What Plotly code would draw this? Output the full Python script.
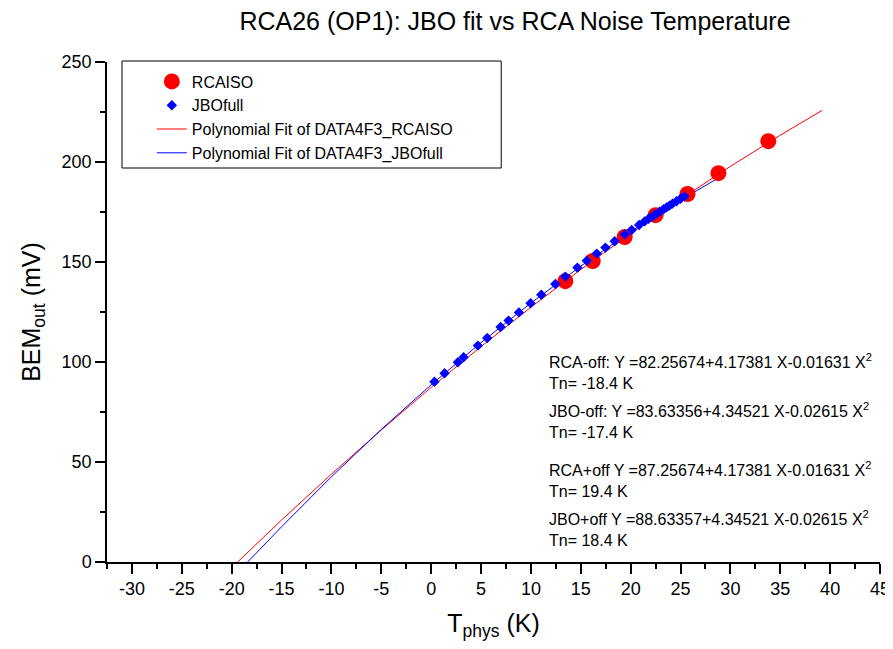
import plotly.graph_objects as go

# RCAISO measured points
rca_x = [13.45, 16.2, 19.4, 22.5, 25.7, 28.8, 33.8]
rca_y = [140.4, 150.5, 162.5, 173.4, 184.0, 194.4, 210.4]

# JBOfull points
jbo_x = [0.33, 1.34, 2.68, 3.25, 4.69, 5.62, 6.96, 7.76, 8.8, 9.97, 11.04, 12.45,
         13.45, 14.66, 15.6, 16.6, 17.47, 18.4, 19.4, 20.1, 20.85, 21.4, 21.8, 22.2,
         22.5, 22.9, 23.3, 23.6, 23.9, 24.2, 24.6, 25.0, 25.4]
jbo_y = [90.1, 94.4, 99.9, 102.4, 108.2, 112.0, 117.5, 120.7, 124.8, 129.4, 133.6, 139.0,
         142.7, 147.2, 150.6, 154.2, 157.2, 160.4, 163.8, 166.0, 168.5, 170.3, 171.6, 172.9,
         173.8, 175.1, 176.4, 177.3, 178.2, 179.2, 180.4, 181.6, 182.8]

# Polynomial fit lines
rca_fit_x = [-19.4, -15, -10, -5, 0, 5, 10, 15, 20, 25, 30, 35, 39.2]
rca_fit_y = [0.0, 21.0, 43.9, 66.0, 87.3, 107.7, 127.4, 146.2, 164.2, 181.4, 197.8, 213.4, 225.8]
jbo_fit_x = [-18.4, -15, -10, -5, 0, 5, 10, 15, 20, 25, 29.4]
jbo_fit_y = [0.0, 17.6, 42.6, 66.3, 88.6, 109.7, 129.5, 147.9, 165.1, 180.9, 193.8]

x_ticks = list(range(-30, 50, 5))
x_labels = [str(v) for v in x_ticks]  # plain hyphen minus like the original

notes = [
    ("RCA-off: Y =82.25674+4.17381 X-0.01631 X<sup>2</sup>", 100.5),
    ("Tn= -18.4 K", 89.5),
    ("JBO-off: Y =83.63356+4.34521 X-0.02615 X<sup>2</sup>", 76.0),
    ("Tn= -17.4 K", 65.0),
    ("RCA+off Y =87.25674+4.17381 X-0.01631 X<sup>2</sup>", 46.5),
    ("Tn= 19.4 K", 35.5),
    ("JBO+off Y =88.63357+4.34521 X-0.02615 X<sup>2</sup>", 22.0),
    ("Tn= 18.4 K", 11.0),
]

FONT = "Arial, Liberation Sans, sans-serif"

fig = go.Figure()
fig.add_trace(go.Scatter(x=rca_fit_x, y=rca_fit_y, mode="lines", line=dict(color="red", width=1),
                         name="Polynomial Fit of DATA4F3_RCAISO", legendrank=3))
fig.add_trace(go.Scatter(x=jbo_fit_x, y=jbo_fit_y, mode="lines", line=dict(color="blue", width=1),
                         name="Polynomial Fit of DATA4F3_JBOfull", legendrank=4))
fig.add_trace(go.Scatter(x=rca_x, y=rca_y, mode="markers",
                         marker=dict(color="red", size=16, symbol="circle"),
                         name="RCAISO", legendrank=1))
fig.add_trace(go.Scatter(x=jbo_x, y=jbo_y, mode="markers",
                         marker=dict(color="blue", size=8, symbol="diamond"),
                         name="JBOfull", legendrank=2))

for text, yv in notes:
    fig.add_annotation(x=11.6, y=yv, text=text, showarrow=False, xanchor="left", yanchor="middle",
                       font=dict(family=FONT, size=16, color="black"))

# legend frame drawn separately so the symbols can sit further in, like Origin does
fig.add_shape(type="rect", xref="paper", yref="paper", x0=0.0194, x1=0.510, y0=0.788, y1=1.002,
              line=dict(color="black", width=1), fillcolor="white", layer="below")

# page body has an 8px margin, so the figure is a bit smaller than the window
fig.update_layout(
    width=885, height=633,
    paper_bgcolor="white", plot_bgcolor="white",
    margin=dict(l=99, r=13, t=54, b=79),
    font=dict(family=FONT, color="black"),
    title=dict(text="RCA26 (OP1): JBO fit vs RCA Noise Temperature", x=507 / 885, xanchor="center",
               y=1 - 13 / 633, yanchor="middle", font=dict(size=25)),
    legend=dict(x=0.058, y=0.995, xanchor="left", yanchor="top", bgcolor="rgba(0,0,0,0)",
                borderwidth=0, font=dict(size=16), tracegroupgap=0,
                traceorder="normal"),
    showlegend=True,
)
fig.update_xaxes(range=[-32.5, 45], tickmode="array", tickvals=x_ticks, ticktext=x_labels,
                 ticks="outside", ticklen=10, tickwidth=1.5, tickcolor="black",
                 minor=dict(ticks="outside", ticklen=5, tickwidth=1.5, dtick=2.5, tick0=0, tickcolor="black"),
                 showline=True, linecolor="black", linewidth=1.5, showgrid=False, zeroline=False,
                 tickfont=dict(size=18), automargin=False, ticklabeloverflow="allow",
                 title=dict(text="T<sub>phys</sub> (K)", font=dict(size=25), standoff=16))
fig.update_yaxes(range=[0, 250], dtick=50, ticks="outside", ticklen=10, tickwidth=1.5, tickcolor="black",
                 minor=dict(ticks="outside", ticklen=5, tickwidth=1.5, dtick=25, tickcolor="black"),
                 showline=True, linecolor="black", linewidth=1.5, showgrid=False, zeroline=False,
                 tickfont=dict(size=18), automargin=False,
                 title=dict(text="BEM<sub>out</sub> (mV)", font=dict(size=25), standoff=14))

fig.write_html("out.html")
